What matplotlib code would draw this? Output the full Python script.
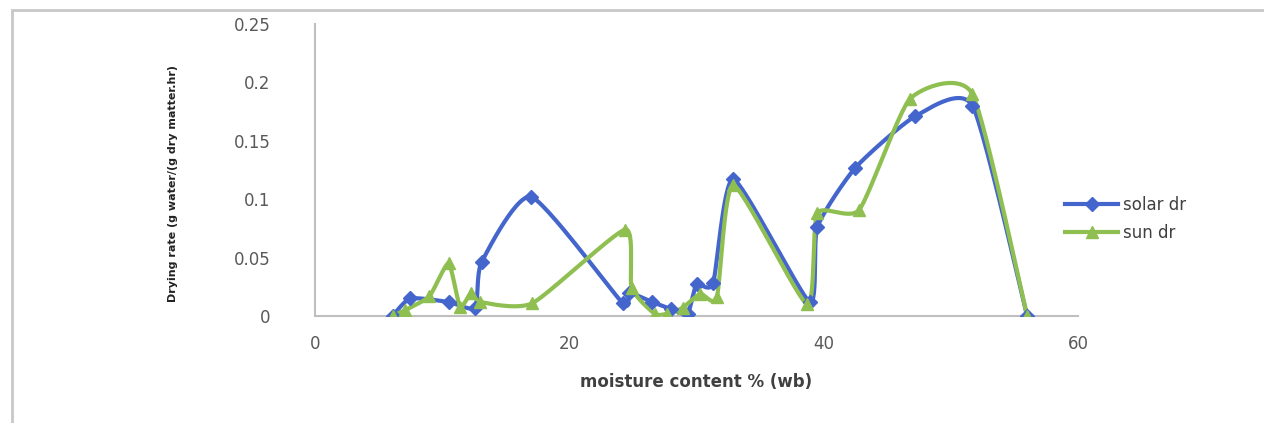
import numpy as np
import matplotlib.pyplot as plt
from matplotlib.lines import Line2D
from matplotlib.patches import Rectangle

# values
solar_x = [6.1, 7.5, 10.5, 12.6, 13.1, 17.0, 24.2, 24.7, 26.5, 28.0, 29.3, 30.0, 31.3,
           32.9, 38.9, 39.5, 42.5, 47.2, 51.7, 56.0]
solar_y = [0.0, 0.015, 0.012, 0.007, 0.046, 0.102, 0.011, 0.02, 0.012, 0.006, 0.002, 0.027, 0.028,
           0.117, 0.012, 0.076, 0.127, 0.171, 0.180, 0.0]

sun_x = [6.1, 7.1, 9.0, 10.5, 11.4, 12.3, 13.0, 17.1, 24.4, 24.9, 26.7, 27.7, 28.9,
         30.3, 31.6, 32.9, 38.7, 39.5, 42.8, 46.8, 51.7, 56.0]
sun_y = [0.0, 0.005, 0.017, 0.045, 0.008, 0.02, 0.012, 0.011, 0.074, 0.024, 0.002, 0.002, 0.007,
         0.019, 0.016, 0.112, 0.01, 0.088, 0.091, 0.186, 0.190, 0.0]

x_ticks = [0, 20, 40, 60]
y_ticks = [0, 0.05, 0.1, 0.15, 0.2, 0.25]
y_ticklabels = ["0", "0.05", "0.1", "0.15", "0.2", "0.25"]

blue = "#4466cc"
green = "#8fbf50"


def smooth(xs, ys, n=30, k=10.0):
    # bezier through the points, like a spreadsheet "smoothed line"
    p = np.column_stack([xs, ys]).astype(float)
    p = np.vstack([p[0], p, p[-1]])
    out = []
    t = np.linspace(0, 1, n)[:, None]
    for i in range(1, len(p) - 2):
        p0, p1, p2, p3 = p[i - 1], p[i], p[i + 1], p[i + 2]
        c1 = p1 + (p2 - p0) / k
        c2 = p2 - (p3 - p1) / k
        seg = ((1 - t) ** 3) * p1 + 3 * ((1 - t) ** 2) * t * c1 + 3 * (1 - t) * t ** 2 * c2 + t ** 3 * p2
        out.append(seg)
    out = np.vstack(out)
    return out[:, 0], out[:, 1]


fig = plt.figure(figsize=(12.64, 4.23), dpi=100)
fig.patches.append(Rectangle((12 / 1264, -0.05), 1.1, 1 - 10 / 423 + 0.05, transform=fig.transFigure,
                             fill=False, edgecolor="#c8c8c8", linewidth=2))

ax = fig.add_axes([315 / 1264, 1 - 316 / 423, (1078 - 315) / 1264, (316 - 24) / 423])

sx, sy = smooth(solar_x, solar_y)
ax.plot(sx, sy, color=blue, lw=3, zorder=3)
ax.plot(solar_x, solar_y, ls="none", marker="D", ms=7, color=blue, zorder=4)

gx, gy = smooth(sun_x, sun_y)
ax.plot(gx, gy, color=green, lw=3, zorder=3)
ax.plot(sun_x, sun_y, ls="none", marker="^", ms=8, color=green, zorder=4)

ax.set_xlim(0, 60)
ax.set_ylim(0, 0.25)
ax.set_xticks(x_ticks)
ax.set_yticks(y_ticks)
ax.set_yticklabels(y_ticklabels)
ax.tick_params(length=0, labelsize=12, labelcolor="#595959")
ax.tick_params(axis="y", pad=32)
ax.tick_params(axis="x", pad=14)
for s in ["top", "right"]:
    ax.spines[s].set_visible(False)
for s in ["left", "bottom"]:
    ax.spines[s].set_color("#bfbfbf")
    ax.spines[s].set_linewidth(1.5)

ax.set_xlabel("moisture content % (wb)", fontsize=12, fontweight="bold", color="#404040", labelpad=14)
fig.text(173 / 1264, 1 - 184 / 423, "Drying rate (g water/(g dry matter.hr)",
         rotation=90, ha="center", va="center", fontsize=8, fontweight="bold",
         family=["Liberation Sans Narrow", "DejaVu Sans"], color="#222222")

handles = [Line2D([], [], color=blue, lw=3, marker="D", ms=7),
           Line2D([], [], color=green, lw=3, marker="^", ms=8)]
fig.legend(handles, ["solar dr", "sun dr"], loc="center left",
           bbox_to_anchor=(1050 / 1264, 1 - 219 / 423), frameon=False,
           fontsize=12, labelcolor="#404040", handlelength=3.2, handletextpad=0.3,
           labelspacing=0.6)

fig.savefig("out.png", dpi=100)
